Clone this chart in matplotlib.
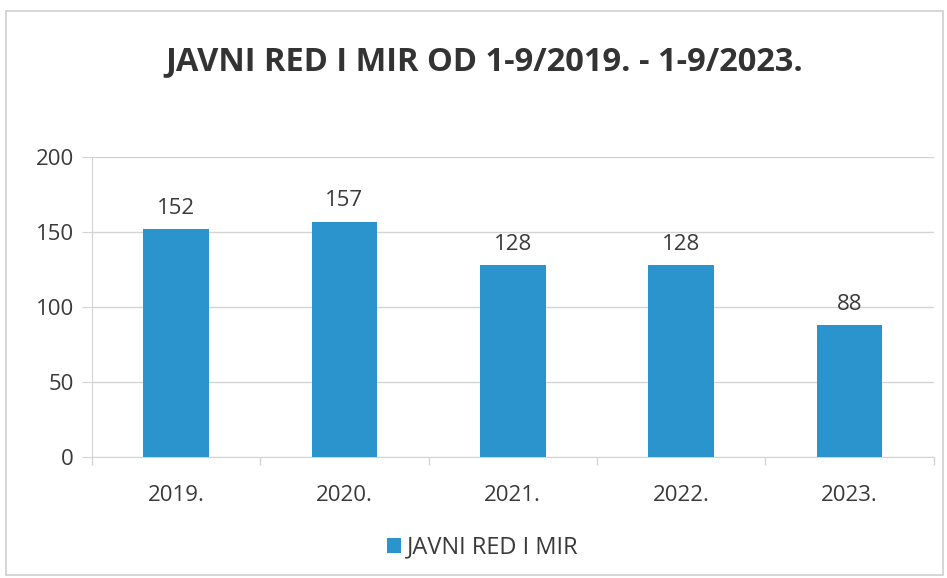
import matplotlib
matplotlib.use("Agg")
import matplotlib.pyplot as plt
from matplotlib.patches import Rectangle
import numpy as np

# ── Data ───────────────────────────────────────────────────────────────────
years = ["2019.", "2020.", "2021.", "2022.", "2023."]
values = [152, 157, 128, 128, 88]
series_name = "JAVNI RED I MIR"
title = "JAVNI RED I MIR OD 1-9/2019. - 1-9/2023."

BAR = "#2b94cc"
GRID = "#d4d4d4"
TXT = "#3a3a3a"

plt.rcParams.update({"font.family": ["Open Sans", "DejaVu Sans"]})

fig = plt.figure(figsize=(9.47, 5.78), dpi=100)
fig.patches.append(Rectangle((0.006, 0.006), 0.99, 0.975, transform=fig.transFigure,
                             fill=False, edgecolor="#cfcfcf", linewidth=1.2))
ax = fig.add_axes([0.097, 0.2093, 0.889, 0.519])

x = np.arange(len(years))
bars = ax.bar(x, values, width=0.39, color=BAR, label=series_name, zorder=3)

for b, v in zip(bars, values):
    ax.text(b.get_x() + b.get_width() / 2, v + 7, str(v), ha="center", va="bottom",
            fontsize=16, color=TXT)

ax.set_xlim(-0.5, len(years) - 0.5)
ax.set_ylim(0, 200)
ax.set_yticks([0, 50, 100, 150, 200])
ax.set_xticks(x)
ax.set_xticklabels(years)
ax.set_xticks(np.arange(-0.5, len(years)), minor=True)
ax.tick_params(axis="x", which="major", length=0, pad=20, labelsize=16, labelcolor=TXT)
ax.tick_params(axis="x", which="minor", length=6, color=GRID, width=1)
ax.tick_params(axis="y", length=7, color=GRID, pad=6, labelsize=16, labelcolor=TXT)
ax.grid(axis="y", color=GRID, linewidth=1, zorder=0)
for s in ["top", "right"]:
    ax.spines[s].set_visible(False)
ax.spines["left"].set_color(GRID)
ax.spines["bottom"].set_color(GRID)

fig.text(0.511, 0.893, title, ha="center", va="center", fontsize=23.5,
         fontweight="bold", color="#333333")

fig.legend(handles=[bars], labels=[series_name], loc="center", bbox_to_anchor=(0.51, 0.053),
           frameon=False, fontsize=17, handlelength=0.6, handleheight=0.6,
           handletextpad=0.25, labelcolor=TXT)

fig.savefig("out.png", dpi=100)
